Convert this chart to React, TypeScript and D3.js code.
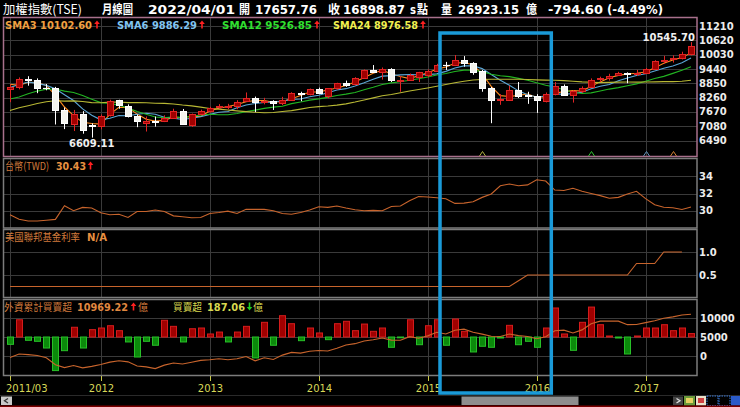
import React from "react";
import * as d3 from "d3";

// ---------- DATA ----------
// closes of the 23 months before the visible window (needed for the moving averages)
const priorCloses = [6413, 6890, 6432, 6957, 6826, 7509, 7340, 7582, 8188, 7640, 7436, 7920, 8004, 7374, 7329, 7761, 7616, 8238, 8287, 8372, 8972, 9145, 8600];

// monthly candles 2011/03 .. 2017/06
const opens = [
  8600, 8690, 9010, 8990, 8660, 8640, 7760, 7170, 7590, 7110,
  7072, 7550, 8140, 7930, 7500, 7200, 7300, 7280, 7400, 7720,
  7140, 7590, 7720, 7860, 7890, 7900, 8100, 8250, 8060, 8110,
  8030, 8180, 8460, 8400, 8620, 8320, 8640, 8860, 8800, 9080,
  9400, 9300, 9440, 8950, 8990, 9100, 9210, 9370, 9620, 9590,
  9820, 9700, 9340, 8670, 8150, 8180, 8560, 8360, 8320, 8130,
  8400, 8740, 8380, 8540, 8680, 9040, 9060, 9170, 9290, 9230,
  9260, 9450, 9760, 9830, 9880, 10050,
];
const highs = [
  8800, 9090, 9140, 9050, 8820, 8700, 7850, 7750, 7700, 7200,
  7560, 8170, 8170, 7980, 7560, 7480, 7480, 7530, 7800, 7790,
  7600, 7760, 7880, 7990, 8000, 8150, 8470, 8300, 8250, 8150,
  8290, 8480, 8500, 8630, 8670, 8650, 8870, 8960, 9100, 9420,
  9600, 9500, 9470, 9150, 9250, 9320, 9420, 9650, 9730, 10014,
  9970, 9720, 9400, 8700, 8400, 8750, 8900, 8500, 8400, 8470,
  8900, 8800, 8560, 8720, 9050, 9120, 9240, 9320, 9300, 9400,
  9480, 9800, 9980, 10000, 10150, 10545.7,
];
const lows = [
  8070, 8600, 8750, 8440, 8560, 7150, 6960, 6880, 6770, 6609.11,
  6950, 7480, 7800, 7440, 7040, 6860, 7060, 7250, 7380, 7130,
  7050, 7560, 7640, 7800, 7780, 7780, 8080, 7660, 7980, 7750,
  7950, 8150, 8110, 8350, 8400, 8230, 8580, 8700, 8760, 9080,
  9300, 9000, 8900, 8500, 8950, 8900, 9100, 9350, 9400, 9560,
  9530, 9200, 8500, 7203, 7960, 8170, 8240, 8000, 7627, 8060,
  8350, 8340, 8053, 8450, 8650, 8900, 8960, 9150, 8850, 9150,
  9240, 9430, 9650, 9700, 9830, 10000,
];
const closes = [
  8683.3, 9007.87, 8988.49, 8652.62, 8644.11, 7741.36, 7225.38, 7587.79, 6904.12, 7072.08,
  7517.08, 8121.45, 7933.0, 7501.72, 7301.5, 7296.28, 7270.49, 7397.06, 7715.15, 7166.06,
  7580.17, 7699.5, 7850.07, 7907.04, 7918.61, 8093.67, 8254.8, 8062.21, 8107.94, 8021.89,
  8173.87, 8450.06, 8406.83, 8611.51, 8462.57, 8639.58, 8849.28, 8791.43, 9075.91, 9393.07,
  9315.88, 9436.27, 8966.92, 8974.76, 9187.15, 9307.26, 9361.91, 9622.1, 9586.44, 9820.08,
  9701.05, 9323.02, 8665.34, 8174.92, 8181.24, 8554.3, 8320.6, 8338.06, 8145.21, 8411.23,
  8744.83, 8377.9, 8535.59, 8666.58, 8984.41, 9068.85, 9166.85, 9290.11, 9240.65, 9253.5,
  9447.94, 9750.49, 9811.52, 9872.0, 10040.73, 10395.05,
];

const twdRate = [
  29.53, 29.02, 28.82, 28.82, 28.9, 29.0, 30.59, 30.0, 30.39, 30.31,
  29.76, 29.53, 29.6, 29.22, 29.92, 29.92, 30.08, 29.92, 29.41, 29.3,
  29.18, 29.22, 29.69, 29.8, 29.96, 29.69, 30.16, 30.16, 30.16, 30.0,
  29.69, 29.6, 29.8, 30.08, 30.47, 30.39, 30.55, 30.31, 30.12, 30.0,
  30.04, 30.0, 30.5, 30.55, 31.15, 31.65, 31.6, 31.5, 31.4, 30.85,
  30.88, 31.05, 31.55, 31.95, 32.9, 33.1, 32.9, 33.0, 33.6, 33.45,
  32.4, 32.35, 32.6, 32.25, 32.0, 31.75, 31.45, 31.55, 31.95, 32.25,
  31.4, 30.7, 30.4, 30.35, 30.15, 30.43,
];

const fedRate = [
  0.25, 0.25, 0.25, 0.25, 0.25, 0.25, 0.25, 0.25, 0.25, 0.25,
  0.25, 0.25, 0.25, 0.25, 0.25, 0.25, 0.25, 0.25, 0.25, 0.25,
  0.25, 0.25, 0.25, 0.25, 0.25, 0.25, 0.25, 0.25, 0.25, 0.25,
  0.25, 0.25, 0.25, 0.25, 0.25, 0.25, 0.25, 0.25, 0.25, 0.25,
  0.25, 0.25, 0.25, 0.25, 0.25, 0.25, 0.25, 0.25, 0.25, 0.25,
  0.25, 0.25, 0.25, 0.25, 0.25, 0.25, 0.375, 0.5, 0.5, 0.5,
  0.5, 0.5, 0.5, 0.5, 0.5, 0.5, 0.5, 0.5, 0.5, 0.75,
  0.75, 0.75, 1.0, 1.0, 1.0,
];

// foreign investors monthly net buy/sell (億)
const foreignNet = [
  -400, 940, -180, -235, -600, -1830, -745, 530, -600, 400,
  490, 615, 345, -270, -1090, -235, -450, 910, 580, -270,
  450, 490, 165, 270, -270, 270, 580, -1140, 800, -450,
  1160, 725, -200, 490, 220, -145, 725, 855, 345, 705,
  310, 490, -560, -30, 940, -420, 615, 940, -450, 980,
  310, -815, -505, -560, -55, 635, -420, -235, -560, 490,
  1580, 165, -725, 800, 1630, 670, 55, -55, -925, 55,
  490, 490, 670, 345, 490, 187.06,
];

const mainTicks = [6490, 7080, 7670, 8260, 8850, 9440, 10030, 10620, 11210];
const twdTicks = [30, 32, 34];
const fedTicks = [0.5, 1.0];
const cumTicks = [0, 5000, 10000];
const yearLabels = ["2011/03", "2012", "2013", "2014", "2015", "2016", "2017"];
const yearIndex = [0, 10, 22, 34, 46, 58, 70];
const signalIndex = [52, 64, 70, 73];
const smaPeriods = [3, 6, 12, 24];
const smaLegendValues = ["10102.60", "9886.29", "9526.85", "8976.58"];
const highLabelIndex = 75;
const lowLabelIndex = 9;

// ---------- STYLE ----------
const NUM = "'DejaVu Sans', Verdana, sans-serif";
const CJK = "'Noto Sans CJK TC', 'Noto Sans CJK SC', sans-serif";
const smaColors = ["#ff8a1e", "#5aa6d6", "#22b422", "#b8b834"];
const smaLegendColors = ["#f0a040", "#80c4f0", "#30e030", "#f0f050"];
const signalColors = ["#b0b040", "#30c030", "#6090b8", "#d08030"];
const GRID = "#3a3a3a";
const LINE = "#c8642c";
const TITLE_ORANGE = "#d07a3c";

function Arrow({ x, y, up, color }: { x: number; y: number; up: boolean; color: string }) {
  const h = 8;
  if (up) {
    return (
      <g>
        <line x1={x} x2={x} y1={y + 2.5} y2={y + h} stroke={color} strokeWidth={1.6} />
        <path d={`M${x - 2.8},${y + 3.6} L${x},${y} L${x + 2.8},${y + 3.6} Z`} fill={color} />
      </g>
    );
  }
  return (
    <g>
      <line x1={x} x2={x} y1={y} y2={y + h - 2.5} stroke={color} strokeWidth={1.6} />
      <path d={`M${x - 2.8},${y + h - 3.6} L${x},${y + h} L${x + 2.8},${y + h - 3.6} Z`} fill={color} />
    </g>
  );
}

function T(props: any) {
  const { x, y, children, size = 10, bold = true, fill = "#fff", len, family = NUM, anchor = "start" } = props;
  return (
    <text
      x={x}
      y={y}
      fontFamily={family}
      fontSize={size}
      fontWeight={bold ? "bold" : "normal"}
      fill={fill}
      textAnchor={anchor}
      textLength={len}
      lengthAdjust={len ? "spacingAndGlyphs" : undefined}
    >
      {children}
    </text>
  );
}

export default function App() {
  const n = closes.length;
  const x = d3.scaleLinear().domain([0, n - 1]).range([10, 691]);
  const yMain = d3.scaleLinear().domain([6490, 11210]).range([140.5, 26]);
  const yTwd = d3.scaleLinear().domain([28, 36]).range([228, 159]);
  const yFed = d3.scaleLinear().domain([0, 1.5]).range([298, 229]);
  const yCum = d3.scaleLinear().domain([-5000, 15000]).range([375, 299]);
  const yBar = d3.scaleLinear().domain([-2070, 2070]).range([375, 299]);

  const allCloses = priorCloses.concat(closes);
  const off = priorCloses.length;
  const smaSeries = smaPeriods.map((p) =>
    closes.map((_, i) => d3.mean(allCloses.slice(i + off - p + 1, i + off + 1)) as number)
  );
  const mainLine = d3.line<number>().x((_, i) => x(i)).y((v) => yMain(v));
  const twdLine = d3.line<number>().x((_, i) => x(i)).y((v) => yTwd(v));
  const fedLine = d3.line<number>().x((_, i) => x(i)).y((v) => yFed(v));
  const cumulative = Array.from(d3.cumsum(foreignNet));
  const cumLine = d3.line<number>().x((_, i) => x(i)).y((v) => yCum(v));

  const L = 3.5, R = 697;
  const panels = [
    { top: 17.5, bottom: 156.5, color: "#a8708c" },
    { top: 158.5, bottom: 228, color: "#7c7c7c" },
    { top: 229.5, bottom: 297.5, color: "#7c7c7c" },
    { top: 299.5, bottom: 375.5, color: "#7c7c7c" },
  ];

  const hGrid = (ys: number[]) =>
    ys.map((yy, k) => (
      <line key={k} x1={L} x2={R} y1={Math.round(yy) + 0.5} y2={Math.round(yy) + 0.5} stroke={GRID} strokeWidth={1} />
    ));

  const candles = closes.map((c, i) => {
    const o = opens[i];
    const up = c >= o;
    const cx = Math.round(x(i));
    const stroke = up ? "#e02424" : "#ffffff";
    const fill = up ? "#a00000" : "#f4f4ee";
    const yt = Math.round(yMain(Math.max(o, c))) + 0.5;
    const yb = Math.round(yMain(Math.min(o, c))) + 0.5;
    return (
      <g key={i}>
        <line x1={cx + 0.5} x2={cx + 0.5} y1={yMain(highs[i])} y2={yMain(lows[i])} stroke={stroke} strokeWidth={1} />
        {yb - yt < 1 ? (
          <line x1={cx - 3} x2={cx + 4} y1={yt} y2={yt} stroke={stroke} strokeWidth={1.2} />
        ) : (
          <rect x={cx - 2.5} y={yt} width={6} height={yb - yt} fill={fill} stroke={stroke} strokeWidth={1} />
        )}
      </g>
    );
  });

  const bars = foreignNet.map((v, i) => {
    const cx = Math.round(x(i));
    const y0 = yBar(0);
    const y1 = yBar(v);
    const up = v >= 0;
    return (
      <rect
        key={i}
        x={cx - 2.5}
        y={Math.min(y0, y1)}
        width={6}
        height={Math.max(0.8, Math.abs(y1 - y0))}
        fill={up ? "#a00000" : "#0b8a0b"}
        stroke={up ? "#d41c1c" : "#28c028"}
        strokeWidth={1}
      />
    );
  });

  const legendX = [5, 117, 222, 333];
  const legendLen = [87, 80, 90, 85];
  const legendNames = ["SMA3", "SMA6", "SMA12", "SMA24"];

  return (
    <div style={{ position: "absolute", left: 0, top: 0, width: 740, height: 407, background: "#000" }}>
      <svg width={740} height={407} style={{ display: "block", background: "#000" }}>
        <rect x={0} y={0} width={740} height={407} fill="#000" />

        {/* title row */}
        <T x={3} y={13.5} size={12.5} bold={false} family={CJK} len={79}>加權指數(TSE)</T>
        <T x={102} y={13.5} size={12.5} family={CJK} len={31}>月線圖</T>
        <T x={148} y={13.5} size={13} len={87}>2022/04/01</T>
        <T x={239} y={13.5} size={12.5} family={CJK} len={11}>開</T>
        <T x={255} y={13.5} size={13} len={62}>17657.76</T>
        <T x={328} y={13.5} size={12.5} family={CJK} len={12}>收</T>
        <T x={343} y={13.5} size={13} len={62}>16898.87</T>
        <T x={410} y={13.5} size={13} len={6}>s</T>
        <T x={417} y={13.5} size={12.5} family={CJK} len={11}>點</T>
        <T x={441} y={13.5} size={12.5} family={CJK} len={11}>量</T>
        <T x={458} y={13.5} size={13} len={61}>26923.15</T>
        <T x={526} y={13.5} size={12.5} family={CJK} len={11}>億</T>
        <T x={548} y={13.5} size={13} len={55}>-794.60</T>
        <T x={607} y={13.5} size={13} len={56}>(-4.49%)</T>

        {/* grids */}
        {hGrid(mainTicks.map((v) => yMain(v)))}
        {hGrid(twdTicks.map((v) => yTwd(v)))}
        {hGrid(fedTicks.map((v) => yFed(v)))}
        {hGrid(cumTicks.map((v) => yCum(v)))}
        {panels.map((p, k) =>
          yearIndex.map((yi, j) => (
            <line
              key={`${k}-${j}`}
              x1={Math.round(x(yi)) + 0.5}
              x2={Math.round(x(yi)) + 0.5}
              y1={p.top}
              y2={p.bottom}
              stroke={GRID}
              strokeWidth={1}
            />
          ))
        )}

        {/* panel frames */}
        {panels.map((p, k) => (
          <rect key={k} x={L} y={p.top} width={R - L} height={p.bottom - p.top} fill="none" stroke={p.color} strokeWidth={1.5} />
        ))}

        {/* main panel */}
        {smaSeries.map((s, k) => (
          <path key={k} d={mainLine(s) || ""} fill="none" stroke={smaColors[k]} strokeWidth={1.1} />
        ))}
        {candles}
        {signalIndex.map((si, k) => {
          const cx = Math.round(x(si)) + 0.5;
          return (
            <path key={k} d={`M${cx - 3},156 L${cx},151.5 L${cx + 3},156`} fill="none" stroke={signalColors[k]} strokeWidth={1} />
          );
        })}
        <T x={x(highLabelIndex) + 4} y={yMain(highs[highLabelIndex]) - 1.5} anchor="end" fill="#f0f0f0">
          {d3.format(".2f")(highs[highLabelIndex])}
        </T>
        <T x={x(lowLabelIndex)} y={yMain(lows[lowLabelIndex]) + 9.5} anchor="middle" fill="#f0f0f0">
          {d3.format(".2f")(lows[lowLabelIndex])}
        </T>
        {legendNames.map((nm, k) => (
          <g key={k}>
            <T x={legendX[k]} y={28.5} fill={smaLegendColors[k]} len={legendLen[k]}>
              {`${nm} ${smaLegendValues[k]}`}
            </T>
            <Arrow x={legendX[k] + legendLen[k] + 5} y={20.5} up={true} color="#ff2020" />
          </g>
        ))}

        {/* TWD panel */}
        <path d={twdLine(twdRate) || ""} fill="none" stroke={LINE} strokeWidth={1.1} />
        <T x={5} y={169.5} size={10.5} bold={false} family={CJK} fill={TITLE_ORANGE} len={44}>台幣(TWD)</T>
        <T x={56} y={169.5} fill="#e89040" len={30}>{d3.format(".2f")(twdRate[n - 1])}</T>
        <Arrow x={90.5} y={161.5} up={true} color="#ff2020" />

        {/* Fed panel */}
        <path d={fedLine(fedRate) || ""} fill="none" stroke={LINE} strokeWidth={1.1} />
        <T x={5} y={240.5} size={10} bold={false} family={CJK} fill={TITLE_ORANGE} len={75}>美國聯邦基金利率</T>
        <T x={87} y={240.5} fill="#e89040" len={20}>N/A</T>

        {/* Foreign panel */}
        {bars}
        <path d={cumLine(cumulative) || ""} fill="none" stroke={LINE} strokeWidth={1.1} />
        <T x={4} y={310.5} size={10} bold={false} family={CJK} fill={TITLE_ORANGE} len={68}>外資累計買賣超</T>
        <T x={77} y={310.5} fill="#e08840" len={51}>10969.22</T>
        <Arrow x={133.5} y={302.5} up={true} color="#ff2020" />
        <T x={138} y={310.5} size={10} bold={false} family={CJK} fill={TITLE_ORANGE} len={10}>億</T>
        <T x={173} y={310.5} size={10} bold={false} family={CJK} fill="#d8d850" len={29}>買賣超</T>
        <T x={207} y={310.5} fill="#d8d850" len={38}>{d3.format(".2f")(foreignNet[n - 1])}</T>
        <Arrow x={249.5} y={302.5} up={false} color="#20d020" />
        <T x={253} y={310.5} size={10} bold={false} family={CJK} fill="#d8d850" len={10}>億</T>

        {/* right axes */}
        {mainTicks.map((v, k) => (
          <T key={k} x={699} y={yMain(v) + 3.6} fill="#ececec">{String(v)}</T>
        ))}
        {twdTicks.map((v, k) => (
          <T key={k} x={699} y={yTwd(v) + 3.6} fill="#ececec">{String(v)}</T>
        ))}
        {fedTicks.map((v, k) => (
          <T key={k} x={699} y={yFed(v) + 3.6} fill="#ececec">{d3.format(".1f")(v)}</T>
        ))}
        {cumTicks.map((v, k) => (
          <T key={k} x={700} y={yCum(v) + 3.6} fill="#ececec">{String(v)}</T>
        ))}

        {/* x axis */}
        {yearIndex.map((yi, k) => {
          const tx = Math.round(x(yi)) + 0.5;
          return (
            <g key={k}>
              <line x1={tx} x2={tx} y1={376} y2={381} stroke="#c8c848" strokeWidth={1} />
              <T x={k === 0 ? 6 : tx} y={392} bold={false} anchor={k === 0 ? "start" : "middle"} fill="#d8d858">
                {yearLabels[k]}
              </T>
            </g>
          );
        })}

        {/* scrollbar */}
        <line x1={0} x2={740} y1={395.5} y2={395.5} stroke="#2a2a2a" />
        <rect x={1} y={396.5} width={11} height={8.5} fill="#c8c8c8" />
        <path d="M8,398.5 L4.5,400.8 L8,403" fill="none" stroke="#333" strokeWidth={1.3} />
        <rect x={461.5} y={396.5} width={117} height={8.5} fill="#8e8e8e" />
        <rect x={673} y={396.5} width={10} height={8.5} fill="#444" />
        <path d="M676.5,398.5 L680,400.8 L676.5,403" fill="none" stroke="#ddd" strokeWidth={1.3} />
        <rect x={684} y={396} width={11} height={9.5} fill="#6a9a3a" />
        <rect x={686} y={398} width={7} height={5} fill="#e6d060" />
        <rect x={696} y={396} width={10} height={9.5} fill="#e8e0c8" />
        <rect x={698} y={398} width={6} height={5} fill="#d04040" />
        <rect x={707} y={396} width={11} height={9.5} fill="none" stroke="#3a7ad8" strokeDasharray="1.5,1" />
        <rect x={719} y={396} width={11} height={9.5} fill="none" stroke="#3a7ad8" strokeDasharray="1.5,1" />
        <rect x={731} y={396} width={9} height={9.5} fill="#2a5ac8" />
        <rect x={0} y={405.5} width={740} height={1.5} fill="#7a0000" />

        {/* highlight box */}
        <rect x={440} y={33} width={111.3} height={360} fill="none" stroke="#1a9ad8" strokeWidth={3.5} />
      </svg>
    </div>
  );
}
